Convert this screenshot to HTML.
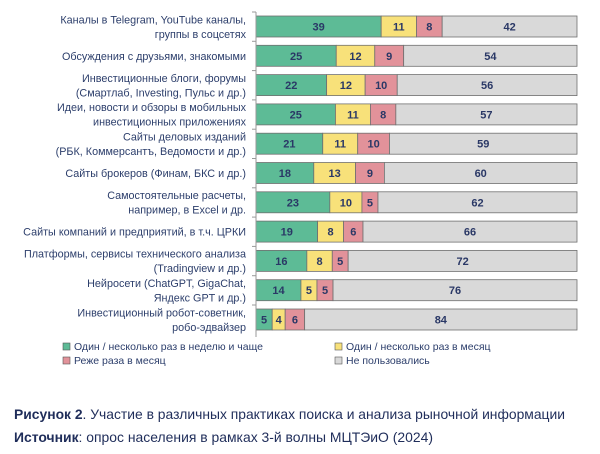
<!DOCTYPE html>
<html><head><meta charset="utf-8">
<style>
body{margin:0;background:#fff;width:600px;height:449px;overflow:hidden;font-family:"Liberation Sans",sans-serif;}
svg text{font-family:"Liberation Sans",sans-serif;}
</style></head>
<body>
<svg width="600" height="449" viewBox="0 0 600 449">
<g id="labels"></g>
<g id="bars"></g>
<line x1="256" y1="12" x2="256" y2="337" stroke="#999" stroke-width="1"/>
<g font-size="10.5" fill="#2c3e6b">
 <g><rect x="63" y="343" width="7" height="7" fill="#5dbb96" stroke="#555" stroke-width="0.6"/><text x="74" y="350">Один / несколько раз в неделю и чаще</text></g>
 <g><rect x="335" y="343" width="7" height="7" fill="#f8e17a" stroke="#555" stroke-width="0.6"/><text x="346" y="350">Один / несколько раз в месяц</text></g>
 <g><rect x="63" y="357" width="7" height="7" fill="#e2929a" stroke="#555" stroke-width="0.6"/><text x="74" y="364">Реже раза в месяц</text></g>
 <g><rect x="335" y="357" width="7" height="7" fill="#d9d9d9" stroke="#555" stroke-width="0.6"/><text x="346" y="364">Не пользовались</text></g>
</g>
<text x="14" y="419" font-size="14" fill="#1f2d5a" textLength="551" lengthAdjust="spacingAndGlyphs"><tspan font-weight="bold">Рисунок 2</tspan>. Участие в различных практиках поиска и анализа рыночной информации</text>
<text x="14" y="442" font-size="14" fill="#1f2d5a" textLength="419" lengthAdjust="spacingAndGlyphs"><tspan font-weight="bold">Источник</tspan>: опрос населения в рамках 3-й волны МЦТЭиО (2024)</text>
</svg>
<script>
const categories=[
 ["Каналы в Telegram, YouTube каналы,","группы в соцсетях"],
 ["Обсуждения с друзьями, знакомыми"],
 ["Инвестиционные блоги, форумы","(Смартлаб, Investing, Пульс и др.)"],
 ["Идеи, новости и обзоры в мобильных","инвестиционных приложениях"],
 ["Сайты деловых изданий","(РБК, Коммерсантъ, Ведомости и др.)"],
 ["Сайты брокеров (Финам, БКС и др.)"],
 ["Самостоятельные расчеты,","например, в Excel и др."],
 ["Сайты компаний и предприятий, в т.ч. ЦРКИ"],
 ["Платформы, сервисы технического анализа","(Tradingview и др.)"],
 ["Нейросети (ChatGPT, GigaChat,","Яндекс GPT и др.)"],
 ["Инвестиционный робот-советник,","робо-эдвайзер"]
];
const weekly=[39,25,22,25,21,18,23,19,16,14,5];
const monthly=[11,12,12,11,11,13,10,8,8,5,4];
const rare=[8,9,10,8,10,9,5,6,5,5,6];
const never=[42,54,56,57,59,60,62,66,72,76,84];
const NS="http://www.w3.org/2000/svg";
const x0=256,x1=577,top0=16,step=29.3,bh=21;
const colors=["#5dbb96","#f8e17a","#e2929a","#d9d9d9"];
const snames=["weekly","monthly","rare","never"];
const bars=document.getElementById('bars'),labels=document.getElementById('labels');
function mk(t,a,p){const e=document.createElementNS(NS,t);for(const k in a)e.setAttribute(k,a[k]);p.appendChild(e);return e;}
categories.forEach((c,i)=>{
 const y=top0+i*step, cy=y+bh/2;
 const series=[weekly[i],monthly[i],rare[i],never[i]];
 const tot=series.reduce((a,b)=>a+b,0);
 const sx=v=>v/tot*(x1-x0);
 let x=x0;
 series.forEach((v,j)=>{
  const w=sx(v);
  const r=mk('rect',{x:x,y:y,width:w,height:bh,fill:colors[j],stroke:'#707070','stroke-width':0.8},bars);
  
  
  const t=mk('text',{x:x+w/2,y:cy+4,'text-anchor':'middle','font-size':11,'font-weight':'bold',fill:'#2a3866'},bars);
  t.textContent=v;
  
  
  x+=w;
 });
 mk('line',{x1:252,x2:256,y1:y-4,y2:y-4,stroke:'#999'},bars);
 const lt=mk('text',{'text-anchor':'end','font-size':10.8,fill:'#2c3e6b'},labels);
 
 
 const n=c.length;
 c.forEach((s,k)=>{const ts=mk('tspan',{x:246,y:cy+4+(k-(n-1)/2)*14.5},lt);ts.textContent=s;});
});
</script>
</body></html>
